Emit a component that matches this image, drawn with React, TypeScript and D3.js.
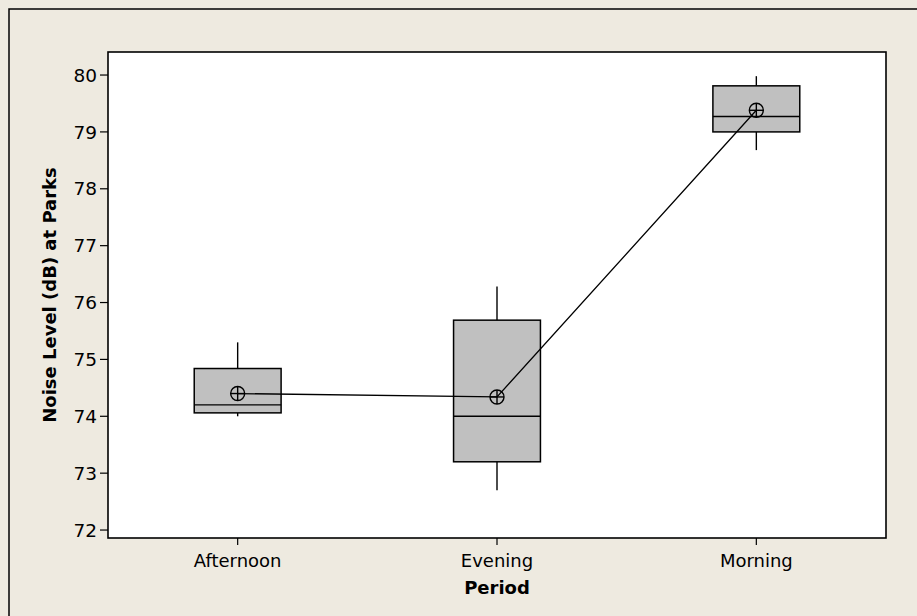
import React from "react";
import * as d3 from "d3";

const categories = ["Afternoon", "Evening", "Morning"];
const q1Values = [74.06, 73.2, 79.0];
const medianValues = [74.2, 74.0, 79.27];
const q3Values = [74.84, 75.69, 79.81];
const whiskerLow = [74.0, 72.7, 78.68];
const whiskerHigh = [75.3, 76.28, 79.98];
const meanValues = [74.4, 74.34, 79.38];
const yTicks = [72, 73, 74, 75, 76, 77, 78, 79, 80];

const W = 917;
const H = 616;
const plot = { left: 108, top: 52, right: 886, bottom: 538 };
const FONT = "Tahoma, 'DejaVu Sans', sans-serif";

export default function App() {
  const x = d3
    .scaleBand<string>()
    .domain(categories)
    .range([plot.left, plot.right])
    .paddingInner(0)
    .paddingOuter(0);
  const y = d3.scaleLinear().domain([71.86, 80.405]).range([plot.bottom, plot.top]);
  const boxW = x.bandwidth() * 0.335;
  const cx = (c: string) => (x(c) as number) + x.bandwidth() / 2;

  const meanLine = d3
    .line<number>()
    .x((_, i) => cx(categories[i]))
    .y((d) => y(d));

  return (
    <svg
      width={W}
      height={H}
      style={{ position: "absolute", left: 0, top: 0, display: "block" }}
    >
      <rect x={0} y={0} width={W} height={H} fill="#EEEAE0" />
      <rect x={9} y={9} width={W + 20} height={H + 20} fill="#EEEAE0" stroke="#000" strokeWidth={1.5} />
      <rect
        x={plot.left}
        y={plot.top}
        width={plot.right - plot.left}
        height={plot.bottom - plot.top}
        fill="#fff"
        stroke="#000"
        strokeWidth={1.6}
      />
      {/* y axis ticks */}
      {yTicks.map((t) => (
        <g key={t}>
          <line x1={plot.left - 8} x2={plot.left} y1={y(t)} y2={y(t)} stroke="#000" strokeWidth={1.2} />
          <text
            x={plot.left - 11}
            y={y(t)}
            dy="0.36em"
            textAnchor="end"
            fontFamily={FONT}
            fontSize={18.5}
            fill="#000"
          >
            {t}
          </text>
        </g>
      ))}
      {/* x axis ticks */}
      {categories.map((c) => (
        <g key={c}>
          <line x1={cx(c)} x2={cx(c)} y1={plot.bottom} y2={plot.bottom + 7} stroke="#000" strokeWidth={1.2} />
          <text x={cx(c)} y={plot.bottom + 29} textAnchor="middle" fontFamily={FONT} fontSize={18} fill="#000">
            {c}
          </text>
        </g>
      ))}
      <text
        x={(plot.left + plot.right) / 2}
        y={plot.bottom + 56}
        textAnchor="middle"
        fontFamily={FONT}
        fontSize={18}
        fontWeight="bold"
        fill="#000"
      >
        Period
      </text>
      <text
        transform={`translate(56, ${(plot.top + plot.bottom) / 2}) rotate(-90)`}
        textAnchor="middle"
        fontFamily={FONT}
        fontSize={18}
        fontWeight="bold"
        fill="#000"
      >
        Noise Level (dB) at Parks
      </text>
      {/* boxes */}
      {categories.map((c, i) => {
        const c0 = cx(c);
        return (
          <g key={c}>
            <line x1={c0} x2={c0} y1={y(whiskerHigh[i])} y2={y(q3Values[i])} stroke="#000" strokeWidth={1.4} />
            <line x1={c0} x2={c0} y1={y(q1Values[i])} y2={y(whiskerLow[i])} stroke="#000" strokeWidth={1.4} />
            <rect
              x={c0 - boxW / 2}
              y={y(q3Values[i])}
              width={boxW}
              height={y(q1Values[i]) - y(q3Values[i])}
              fill="#C0C0C0"
              stroke="#000"
              strokeWidth={1.5}
            />
            <line
              x1={c0 - boxW / 2}
              x2={c0 + boxW / 2}
              y1={y(medianValues[i])}
              y2={y(medianValues[i])}
              stroke="#000"
              strokeWidth={1.4}
            />
          </g>
        );
      })}
      <path d={meanLine(meanValues) || ""} fill="none" stroke="#000" strokeWidth={1.3} />
      {categories.map((c, i) => {
        const c0 = cx(c);
        const my = y(meanValues[i]);
        const r = 7;
        return (
          <g key={"m" + c} stroke="#000" strokeWidth={1.4} fill="none">
            <circle cx={c0} cy={my} r={r} />
            <line x1={c0 - r} x2={c0 + r} y1={my} y2={my} />
            <line x1={c0} x2={c0} y1={my - r} y2={my + r} />
          </g>
        );
      })}
    </svg>
  );
}
